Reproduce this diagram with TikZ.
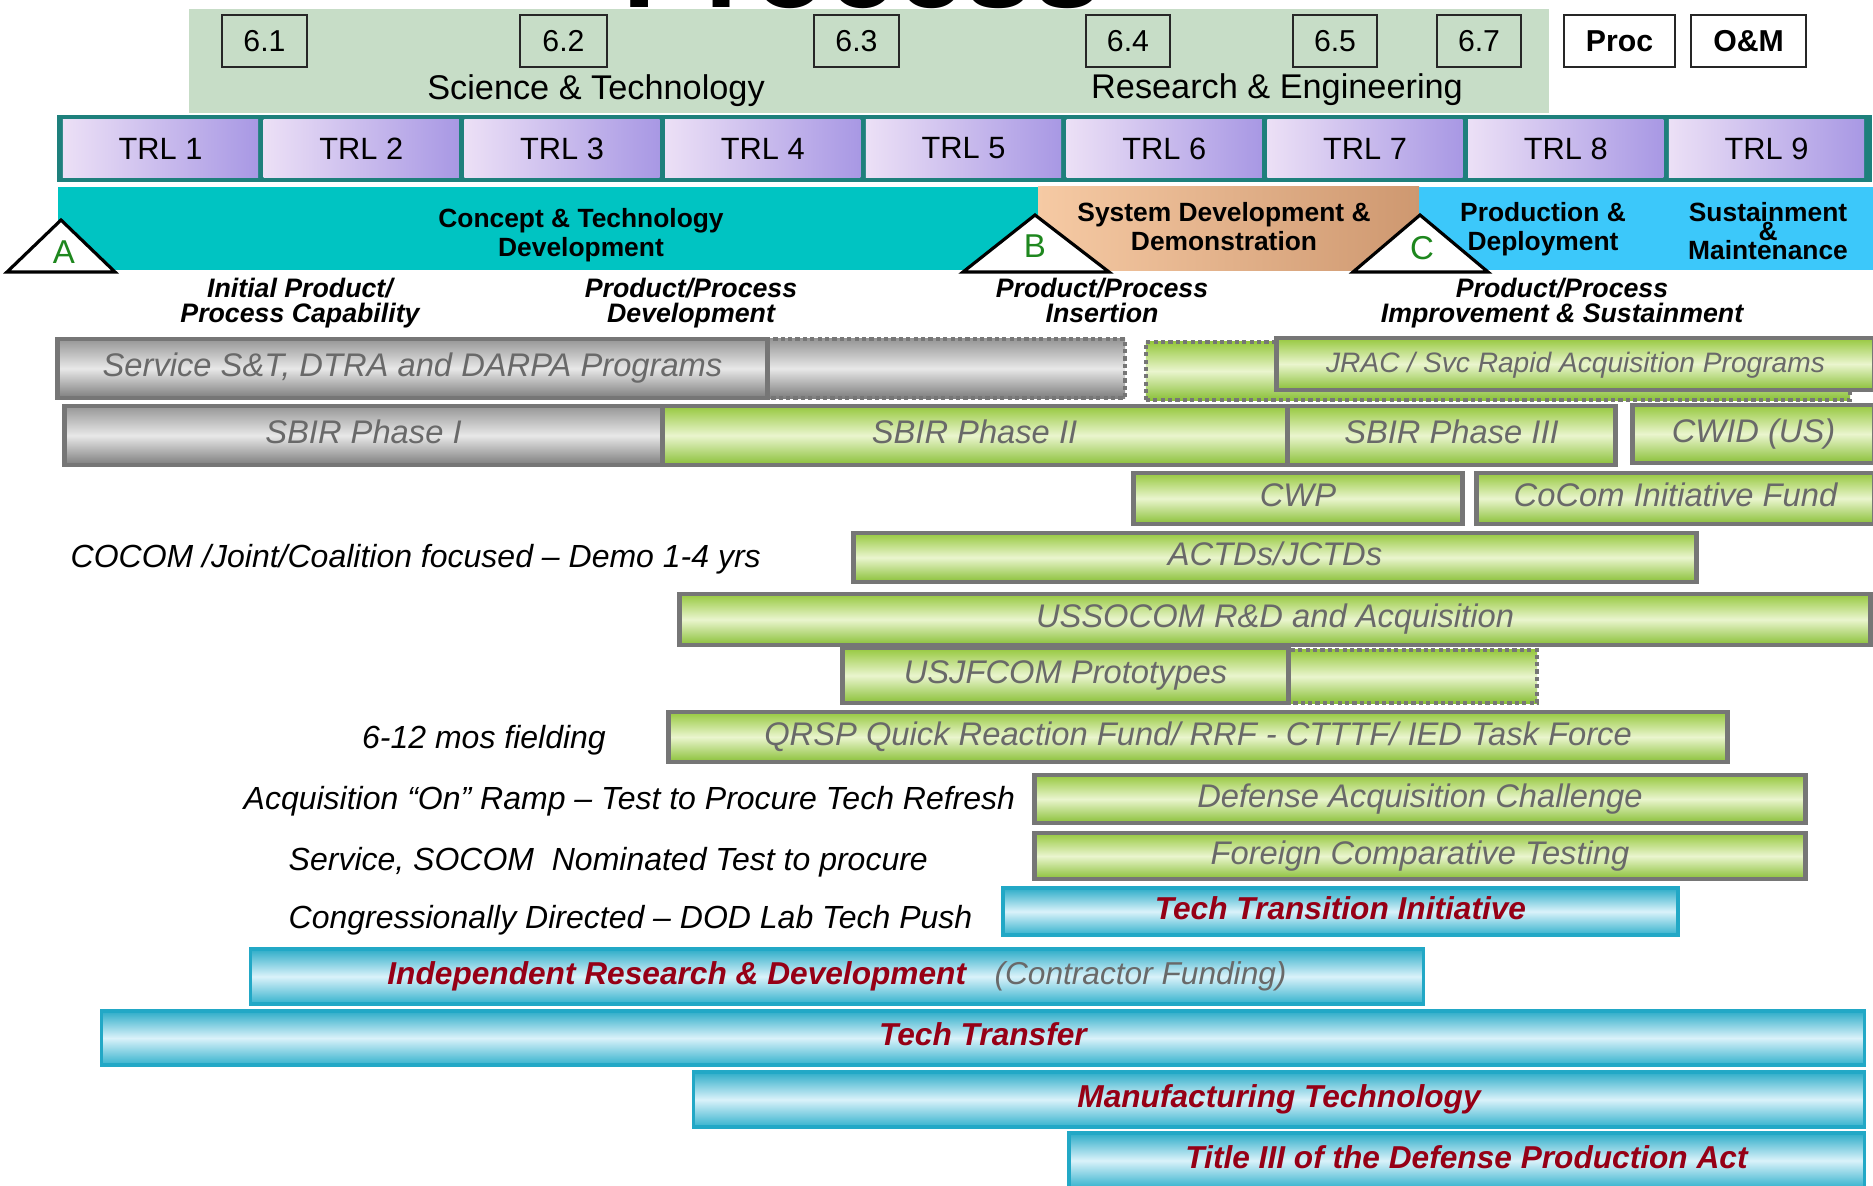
\documentclass[tikz,border=0pt]{standalone}
\usepackage{fontspec}
\setmainfont{Liberation Sans}

\definecolor{stgreen}{RGB}{199,221,199}
\definecolor{trlteal}{RGB}{30,128,124}
\definecolor{trlleft}{RGB}{236,224,246}
\definecolor{trlright}{RGB}{168,152,228}
\definecolor{cptteal}{RGB}{0,196,194}
\definecolor{sddleft}{RGB}{246,202,164}
\definecolor{sddright}{RGB}{206,152,112}
\definecolor{pdblue}{RGB}{60,200,250}
\definecolor{barline}{RGB}{118,118,118}
\definecolor{limetop}{RGB}{150,200,62}
\definecolor{limemid}{RGB}{234,245,206}
\definecolor{limebot}{RGB}{138,192,56}
\definecolor{greytop}{RGB}{150,150,150}
\definecolor{greymid}{RGB}{232,232,232}
\definecolor{greybot}{RGB}{125,125,125}
\definecolor{cyantop}{RGB}{44,172,200}
\definecolor{cyanmid}{RGB}{218,242,250}
\definecolor{cyanbot}{RGB}{52,178,205}
\definecolor{cyanline}{RGB}{34,168,198}
\definecolor{bartext}{RGB}{105,105,105}
\definecolor{progred}{RGB}{150,0,22}
\definecolor{msgreen}{RGB}{30,135,30}

\begin{document}
\begin{tikzpicture}[
        x=0.01cm, y=-0.01cm,
        numbox/.style={draw=black!85, line width=0.6pt, inner sep=0,
        minimum height=0.52cm, font=\fontsize{8.6}{10}\selectfont},
        fundbox/.style={numbox, fill=white, font=\fontsize{8.6}{10}\selectfont\bfseries},
        trlcell/.style={left color=trlleft, right color=trlright, inner sep=0,
        minimum width=1.95cm, minimum height=0.57cm, font=\fontsize{8.75}{10}\selectfont},
        phasetxt/.style={align=center, inner sep=0, anchor=base,
        font=\fontsize{7.5}{8}\selectfont\bfseries},
        milelbl/.style={align=center, inner sep=0, anchor=base,
        font=\fontsize{7.6}{7}\selectfont\bfseries\itshape},
        mstone/.style={draw=black, line width=0.9pt, fill=white},
        msletter/.style={text=msgreen, inner sep=0, anchor=base,
        font=\fontsize{9.4}{10}\selectfont},
        progbar/.style={line width=1.4pt, inner sep=0, text height=6.7pt, text depth=2pt,
        font=\fontsize{9.3}{10}\selectfont\itshape, text=bartext},
        greenbar/.style={progbar, draw=barline, top color=limetop, bottom color=limebot,
        middle color=limemid},
        graybar/.style={progbar, draw=barline, top color=greytop, bottom color=greybot,
        middle color=greymid},
        greendot/.style={greenbar, dash pattern=on 1.2pt off 0.9pt, line width=1.2pt},
        graydot/.style={graybar, dash pattern=on 1.2pt off 0.9pt, line width=1.2pt},
        bluebar/.style={line width=1pt, inner sep=0, text height=6.5pt, text depth=2pt,
        draw=cyanline, top color=cyantop, bottom color=cyanbot, middle color=cyanmid,
        font=\fontsize{9}{10}\selectfont\bfseries\itshape, text=progred},
        sidetxt/.style={inner sep=0, font=\fontsize{9.1}{10}\selectfont\itshape}
      ]
      \useasboundingbox (0,0) rectangle (1873,1185);
      \clip (0,0) rectangle (1873,1185);

      % Funding panel
      \fill[stgreen] (189,9) rectangle (1549,113);
      \node[anchor=base west, inner sep=0, font=\fontsize{35}{35}\selectfont\bfseries]
      (title) at (622,8) {Process};
      \node[numbox, minimum width=0.85cm] (n61) at (264.5,41) {6.1};
      \node[numbox, minimum width=0.87cm] (n62) at (563.5,41) {6.2};
      \node[numbox, minimum width=0.85cm] (n63) at (856.5,41) {6.3};
      \node[numbox, minimum width=0.84cm] (n64) at (1128,41) {6.4};
      \node[numbox, minimum width=0.84cm] (n65) at (1335,41) {6.5};
      \node[numbox, minimum width=0.84cm] (n67) at (1479,41) {6.7};
      \node[fundbox, minimum width=1.11cm] (proc) at (1619.5,41) {Proc};
      \node[fundbox, minimum width=1.15cm] (om) at (1748.5,41) {O\&M};
      \node[anchor=base, inner sep=0, font=\fontsize{9.75}{11}\selectfont]
      (st) at (596,100) {Science \& Technology};
      \node[anchor=base, inner sep=0, font=\fontsize{9.75}{11}\selectfont]
      (re) at (1277,99) {Research \& Engineering};

      % TRL scale
      \fill[trlteal] (57,115) rectangle (1872,182);
      \node[trlcell] (trl1) at (160.5,148.5) {TRL 1};
      \node[trlcell] (trl2) at (361.25,148.5) {TRL 2};
      \node[trlcell] (trl3) at (562,148.5) {TRL 3};
      \node[trlcell] (trl4) at (762.75,148.5) {TRL 4};
      \node[trlcell] (trl5) at (963.5,148.5) {TRL 5};
      \node[trlcell] (trl6) at (1164.25,148.5) {TRL 6};
      \node[trlcell] (trl7) at (1365,148.5) {TRL 7};
      \node[trlcell] (trl8) at (1565.75,148.5) {TRL 8};
      \node[trlcell] (trl9) at (1766.5,148.5) {TRL 9};

      % Acquisition phases
      \fill[cptteal] (58,187) rectangle (1039,270);
      \shade[left color=sddleft, right color=sddright] (1038,187) rectangle (1419,270);
      \fill[pdblue] (1419,187) rectangle (1873,270);
      \node[phasetxt] (ctd) at (581,256) {Concept \& Technology\\Development};
      \node[phasetxt] (sdd) at (1224,250) {System Development \&\\Demonstration};
      \node[phasetxt] (pd) at (1543,250) {Production \&\\Deployment};
      \node[phasetxt] (sust) at (1768,259) {Sustainment\\[-2.7pt]\&\\[-2.7pt]Maintenance};

      % Milestones
      \draw[mstone] (7,272) -- (61,220) -- (115,272) -- cycle;
      \draw[mstone] (963,272) -- (1035,215) -- (1109,272) -- cycle;
      \draw[mstone] (1353,272) -- (1420,215) -- (1488,272) -- cycle;
      \node[msletter] (msa) at (64,263) {A};
      \node[msletter] (msb) at (1035,257) {B};
      \node[msletter] (msc) at (1422,259) {C};
      \node[milelbl] (initcap) at (300,322) {Initial Product/\\Process Capability};
      \node[milelbl] (ppdev) at (691,322) {Product/Process\\Development};
      \node[milelbl] (ppins) at (1102,322) {Product/Process\\Insertion};
      \node[milelbl] (ppimp) at (1562,322) {Product/Process\\Improvement \& Sustainment};

      % Programs
      \node[graydot, minimum width=7.08cm, minimum height=0.59cm] (servext) at (771,368.5) {};
      \node[graybar, minimum width=7.09cm, minimum height=0.59cm] (serv) at (412.5,368.5)
      {Service S\&T, DTRA and DARPA Programs};
      \node[greendot, minimum width=7.04cm, minimum height=0.58cm] (jracext) at (1498,371) {};
      \node[greenbar, minimum width=5.97cm, minimum height=0.52cm,
      font=\fontsize{8}{9}\selectfont\itshape] (jrac) at (1575.5,364)
      {JRAC / Svc Rapid Acquisition Programs};

      \node[greenbar, minimum width=6.25cm, minimum height=0.59cm] (sbirtwo) at (974.5,435.5)
      {SBIR Phase II};
      \node[graybar, minimum width=5.97cm, minimum height=0.59cm] (sbirone) at (363.5,435.5)
      {SBIR Phase I};
      \node[greenbar, minimum width=3.27cm, minimum height=0.59cm] (sbirthree) at (1451.5,435.5)
      {SBIR Phase III};
      \node[greenbar, minimum width=2.41cm, minimum height=0.58cm] (cwid) at (1753.5,434)
      {CWID (US)};

      \node[greenbar, minimum width=3.28cm, minimum height=0.51cm] (cwp) at (1298,498.5) {CWP};
      \node[greenbar, minimum width=3.97cm, minimum height=0.51cm] (ccif) at (1675.5,498.5)
      {CoCom Initiative Fund};

      \node[greenbar, minimum width=8.42cm, minimum height=0.49cm] (actd) at (1275,557.5)
      {ACTDs/JCTDs};
      \node[sidetxt, anchor=base west] (cocomlbl) at (70,567)
      {COCOM /Joint/Coalition focused – Demo 1-4 yrs};

      \node[greenbar, minimum width=11.90cm, minimum height=0.51cm] (ussocom) at (1275,619.5)
      {USSOCOM R\&D and Acquisition};

      \node[greendot, minimum width=6.94cm, minimum height=0.53cm] (usjfext) at (1190,676.5) {};
      \node[greenbar, minimum width=4.45cm, minimum height=0.55cm] (usjf) at (1065.5,675.5)
      {USJFCOM Prototypes};

      \node[greenbar, minimum width=10.58cm, minimum height=0.50cm] (qrsp) at (1198,737)
      {QRSP Quick Reaction Fund/ RRF - CTTTF/ IED Task Force};
      \node[sidetxt, anchor=base] (fieldlbl) at (484,748) {6-12 mos fielding};

      \node[greenbar, minimum width=7.70cm, minimum height=0.48cm] (dac) at (1420,799)
      {Defense Acquisition Challenge};
      \node[sidetxt, anchor=base west] (ramplbl) at (243,809)
      {Acquisition “On” Ramp – Test to Procure Tech Refresh};

      \node[greenbar, minimum width=7.70cm, minimum height=0.46cm] (fct) at (1420,856)
      {Foreign Comparative Testing};
      \node[sidetxt, anchor=base west] (nomlbl) at (288,870)
      {Service, SOCOM\ \ Nominated Test to procure};

      \node[bluebar, minimum width=6.75cm, minimum height=0.47cm] (tti) at (1340.5,911.5)
      {Tech Transition Initiative};
      \node[sidetxt, anchor=base west] (conglbl) at (288,928)
      {Congressionally Directed – DOD Lab Tech Push};

      \node[bluebar, minimum width=11.72cm, minimum height=0.55cm] (irad) at (837,976.5)
      {Independent Research \& Development\hspace{0.9em}\textcolor{bartext}{\mdseries(Contractor Funding)}};
      \node[bluebar, minimum width=17.62cm, minimum height=0.54cm] (ttransfer) at (983,1038)
      {Tech Transfer};
      \node[bluebar, minimum width=11.70cm, minimum height=0.55cm] (mantech) at (1279,1099.5)
      {Manufacturing Technology};
      \node[bluebar, minimum width=7.95cm, minimum height=0.55cm] (titlethree) at (1466.5,1160.5)
      {Title III of the Defense Production Act};
    \end{tikzpicture}
\end{document}
